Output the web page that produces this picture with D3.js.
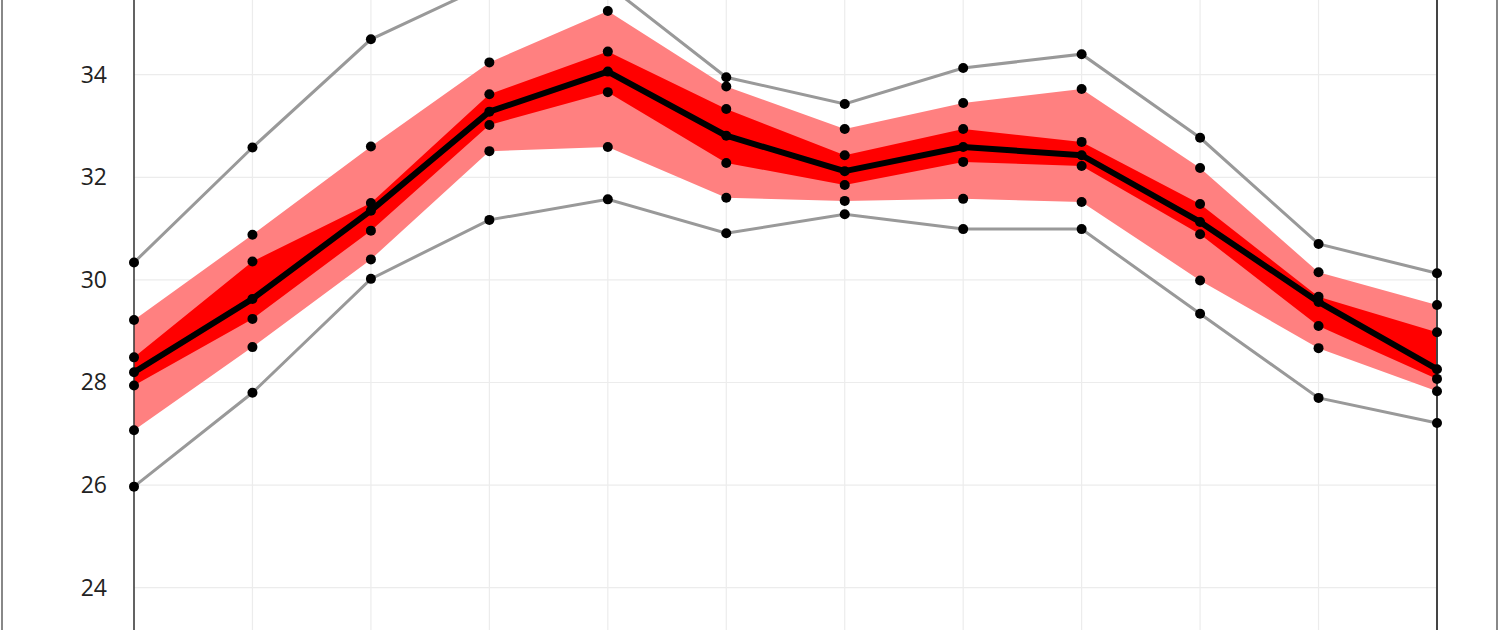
<!DOCTYPE html>
<html><head><meta charset="utf-8">
<script src="https://cdn.jsdelivr.net/npm/d3@7"></script>
<style>html,body{margin:0;padding:0;background:#fff;overflow:hidden}</style>
</head><body>
<svg id="chart" width="1500" height="630"></svg>
<script>
const categories = ["Jan","Feb","Mar","Apr","May","Jun","Jul","Aug","Sep","Oct","Nov","Dec"];
const maxVals    = [30.34, 32.58, 34.69, 35.77, 35.75, 33.95, 33.43, 34.13, 34.40, 32.77, 30.70, 30.13];
const p90Vals    = [29.22, 30.88, 32.60, 34.24, 35.24, 33.77, 32.94, 33.45, 33.72, 32.18, 30.15, 29.51];
const p75Vals    = [28.49, 30.36, 31.50, 33.62, 34.45, 33.33, 32.43, 32.94, 32.69, 31.48, 29.67, 28.98];
const medianVals = [28.20, 29.63, 31.35, 33.28, 34.06, 32.81, 32.12, 32.59, 32.43, 31.13, 29.57, 28.26];
const p25Vals    = [27.94, 29.24, 30.96, 33.02, 33.66, 32.28, 31.85, 32.30, 32.22, 30.89, 29.10, 28.07];
const p10Vals    = [27.07, 28.69, 30.40, 32.51, 32.59, 31.60, 31.54, 31.58, 31.52, 29.99, 28.67, 27.83];
const minVals    = [25.97, 27.80, 30.02, 31.17, 31.57, 30.91, 31.28, 30.99, 30.99, 29.34, 27.70, 27.21];
const yTicks     = [24, 26, 28, 30, 32, 34];

const svg = d3.select("#chart");
const W = 1500, H = 630;

// outer frame lines
svg.append("line").attr("x1",2).attr("x2",2).attr("y1",0).attr("y2",H).attr("stroke","#888").attr("stroke-width",2);
svg.append("line").attr("x1",1497).attr("x2",1497).attr("y1",0).attr("y2",H).attr("stroke","#888").attr("stroke-width",2);

const x = d3.scalePoint().domain(categories).range([134, 1437]);
const y = d3.scaleLinear().domain([24, 34]).range([587.7, 74.7]);

const idx = d3.range(categories.length);

// grid
svg.append("g").selectAll("line.h").data([22,24,26,28,30,32,34,36]).join("line")
  .attr("x1",134).attr("x2",1437).attr("y1",d=>y(d)).attr("y2",d=>y(d))
  .attr("stroke","#ececec").attr("stroke-width",1.2);
svg.append("g").selectAll("line.v").data(categories).join("line")
  .attr("x1",d=>x(d)).attr("x2",d=>x(d)).attr("y1",y(36)).attr("y2",y(22))
  .attr("stroke","#ececec").attr("stroke-width",1.2);

// bands
const band = (lo, hi) => d3.area().x(i=>x(categories[i])).y0(i=>y(lo[i])).y1(i=>y(hi[i]));
svg.append("path").datum(idx).attr("d", band(p10Vals, p90Vals)).attr("fill","#ff8080");
svg.append("path").datum(idx).attr("d", band(p25Vals, p75Vals)).attr("fill","#ff0000");

const line = arr => d3.line().x(i=>x(categories[i])).y(i=>y(arr[i]));
svg.append("path").datum(idx).attr("d", line(maxVals)).attr("fill","none").attr("stroke","#999").attr("stroke-width",3);
svg.append("path").datum(idx).attr("d", line(minVals)).attr("fill","none").attr("stroke","#999").attr("stroke-width",3);

// axis lines (left y axis and right border)
svg.append("line").attr("x1",134).attr("x2",134).attr("y1",-50).attr("y2",H+50).attr("stroke","#333").attr("stroke-width",1.5);
svg.append("line").attr("x1",1437).attr("x2",1437).attr("y1",-50).attr("y2",H+50).attr("stroke","#444").attr("stroke-width",2);

svg.append("path").datum(idx).attr("d", line(medianVals)).attr("fill","none").attr("stroke","#000").attr("stroke-width",6).attr("stroke-linejoin","round");

// dots
const allSeries = [maxVals, p90Vals, p75Vals, medianVals, p25Vals, p10Vals, minVals];
allSeries.forEach(arr => {
  svg.append("g").selectAll("circle").data(idx).join("circle")
    .attr("cx", i=>x(categories[i])).attr("cy", i=>y(arr[i])).attr("r",5).attr("fill","#000");
});

// y axis labels
const yAxis = d3.axisLeft(y).tickValues(yTicks).tickSize(0).tickPadding(27).tickFormat(d3.format("d"));
const gy = svg.append("g").attr("transform","translate(134,0)").call(yAxis);
gy.select(".domain").remove();
gy.selectAll("text").attr("font-family","'Open Sans', sans-serif").attr("font-size",23).attr("fill","#222");

// x axis (lies below the visible area, as in the cropped reference)
const gx = svg.append("g").attr("transform",`translate(0,${y(22)})`).call(d3.axisBottom(x).tickSize(0));
gx.select(".domain").remove();
gx.selectAll("text").attr("font-family","'Open Sans', sans-serif").attr("font-size",23).attr("fill","#222");
</script>
</body></html>
